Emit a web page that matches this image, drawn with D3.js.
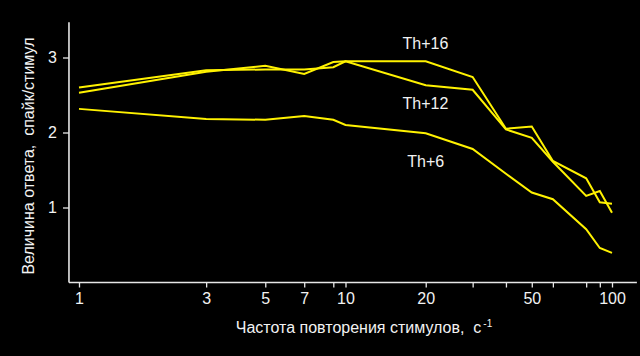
<!DOCTYPE html>
<html><head><meta charset="utf-8">
<script src="https://cdn.jsdelivr.net/npm/d3@7/dist/d3.min.js"></script>
<style>
html,body{margin:0;padding:0;background:#000;}
svg{display:block;}
text{font-family:"Liberation Sans",Arial,sans-serif;fill:#f2f2f2;white-space:pre;}
</style></head>
<body>
<svg id="chart" width="640" height="356"></svg>
<script>
const freqs = [1, 3, 5, 7, 9, 10, 20, 30, 40, 50, 60, 80, 90, 100];
const th16 = [2.60, 2.83, 2.84, 2.84, 2.87, 2.95, 2.95, 2.74, 2.05, 2.08, 1.62, 1.39, 1.07, 1.05];
const th12 = [2.53, 2.81, 2.89, 2.78, 2.94, 2.95, 2.63, 2.57, 2.04, 1.93, 1.61, 1.155, 1.22, 0.93];
const th6  = [2.315, 2.18, 2.17, 2.22, 2.17, 2.10, 1.99, 1.78, 1.45, 1.20, 1.11, 0.71, 0.46, 0.395];
const seriesNames = ["Th+16", "Th+12", "Th+6"];
const xTicks = [1, 3, 5, 7, 9, 10, 20, 30, 40, 50, 60, 80, 90, 100];
const xTickLabels = [1, 3, 5, 7, 10, 20, 50, 100];
const yTicks = [1, 2, 3];

const svg = d3.select("#chart");
const x = d3.scaleLog().domain([1, 100]).range([79, 612]);
const y = d3.scaleLinear().domain([0, 3]).range([282.5, 57.5]);
const axisCol = "#e6e6e6";

// axis lines
svg.append("line").attr("x1", x(0.917)).attr("x2", x(0.917))
  .attr("y1", y(0)).attr("y2", y(3.47)).attr("stroke", axisCol).attr("stroke-width", 1.6);
svg.append("line").attr("x1", x(0.917)).attr("x2", x(124))
  .attr("y1", y(0)).attr("y2", y(0)).attr("stroke", axisCol).attr("stroke-width", 1.6);

// x axis ticks
const xa = svg.append("g").attr("transform", `translate(0,${y(0)})`)
  .call(d3.axisBottom(x).tickValues(xTicks).tickSize(5).tickPadding(5)
    .tickFormat(d => xTickLabels.includes(d) ? d : ""));
xa.select(".domain").remove();
xa.selectAll("line").attr("stroke", axisCol).attr("stroke-width", 1.3);
xa.selectAll("text").attr("font-size", 16).attr("fill", "#f2f2f2")
  .attr("font-family", "Liberation Sans, Arial, sans-serif");

// y axis ticks
const ya = svg.append("g").attr("transform", `translate(${x(0.917)},0)`)
  .call(d3.axisLeft(y).tickValues(yTicks).tickSize(6).tickPadding(6).tickFormat(d3.format("d")));
ya.select(".domain").remove();
ya.selectAll("line").attr("stroke", axisCol).attr("stroke-width", 1.3);
ya.selectAll("text").attr("font-size", 16).attr("fill", "#f2f2f2")
  .attr("font-family", "Liberation Sans, Arial, sans-serif");

// lines
const line = d3.line().x((d, i) => x(freqs[i])).y(d => y(d));
[th16, th12, th6].forEach(s => {
  svg.append("path").datum(s).attr("d", line)
    .attr("fill", "none").attr("stroke", "#fff200").attr("stroke-width", 2)
    .attr("stroke-linejoin", "miter");
});

// series labels
const labelPos = [[425.5, 49], [425.5, 109], [425.7, 167]];
seriesNames.forEach((n, i) => {
  svg.append("text").attr("x", labelPos[i][0]).attr("y", labelPos[i][1])
    .attr("text-anchor", "middle").attr("font-size", 16).text(n);
});

// axis titles
const xt = svg.append("text").attr("x", 364).attr("y", 333).attr("text-anchor", "middle").attr("font-size", 16);
xt.append("tspan").text("Частота повторения стимулов,  с");
xt.append("tspan").attr("font-size", 10).attr("dy", -6).attr("dx", 2).text("-1");

svg.append("text").attr("transform", "translate(34,156) rotate(-90)")
  .attr("text-anchor", "middle").attr("font-size", 16).text("Величина ответа,  спайк/стимул");
</script>
</body></html>
